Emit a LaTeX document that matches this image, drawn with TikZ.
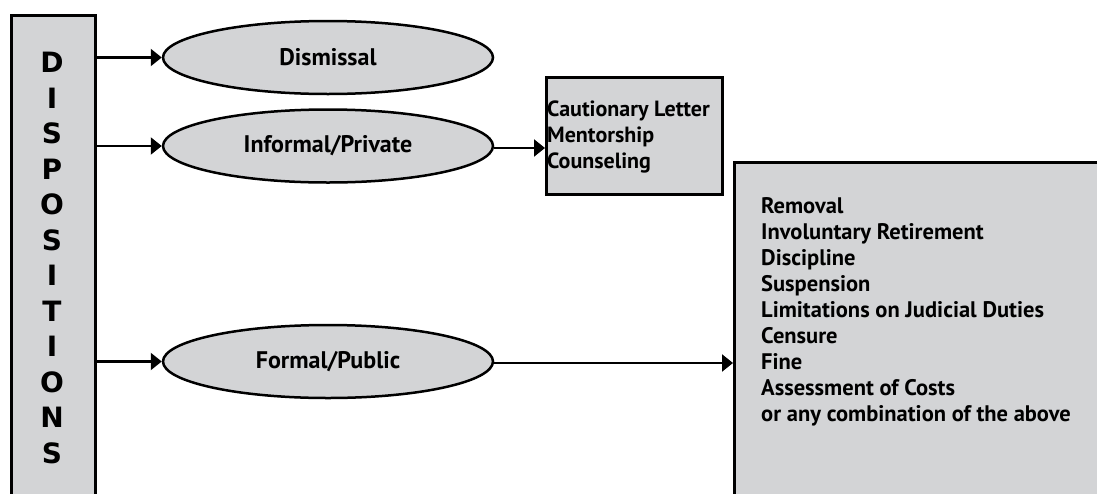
\documentclass[tikz,border=0pt]{standalone}
\usepackage{fontspec}
\setmainfont{PT Sans}
\newfontfamily\dispfont{DejaVu Sans}
\usetikzlibrary{shapes.geometric,arrows.meta}
\definecolor{boxgray}{RGB}{211,212,214}
\tikzset{
  graybox/.style={draw=black, line width=2.5pt, fill=boxgray, rectangle, inner sep=0pt},
  oval/.style={draw=black, line width=2.5pt, fill=boxgray, ellipse, minimum width=330pt, minimum height=73pt, inner sep=0pt, font=\bfseries\fontsize{24}{26}\selectfont},
  conn/.style={line width=2.2pt, -{Triangle[length=11pt,width=17pt]}},
  listtext/.style={align=left, inner sep=0pt},
}
\begin{document}
\begin{tikzpicture}[x=1pt,y=-1pt]
\useasboundingbox (0,0) rectangle (1097,493);
\clip (0,0) rectangle (1097,493);
% left box
\node[graybox, anchor=north west, minimum width=84pt, minimum height=500pt] (disp) at (10,14) {};
\node[align=center, inner sep=0pt, font=\dispfont\bfseries\fontsize{28}{35.5}\selectfont, anchor=north] (disptext) at (52,52) {D\\I\\S\\P\\O\\S\\I\\T\\I\\O\\N\\S};
% ellipses
\node[oval] (e1) at (328,57.5) {Dismissal};
\node[oval] (e2) at (328,146) {Informal/Private};
\node[oval] (e3) at (328,361.5) {Formal/Public};
% cautionary box
\node[graybox, anchor=north west, minimum width=176pt, minimum height=117pt] (caut) at (545,76) {};
\node[listtext, anchor=west, font=\bfseries\fontsize{22}{26}\selectfont] (cauttext) at (547,137) {Cautionary Letter\\Mentorship\\Counseling};
% big box
\node[graybox, anchor=north west, minimum width=400pt, minimum height=360pt] (big) at (733,161) {};
\node[listtext, anchor=north west, font=\bfseries\fontsize{22.5}{26}\selectfont] (bigtext) at (761,197) {Removal\\Involuntary Retirement\\Discipline\\Suspension\\Limitations on Judicial Duties\\Censure\\Fine\\Assessment of Costs\\or any combination of the above};
% connectors
\draw[conn] (disp.east |- e1) -- (e1.west);
\draw[conn] (disp.east |- e2) -- (e2.west);
\draw[conn] (disp.east |- e3) -- (e3.west);
\draw[conn] ([yshift=-2pt]e2.east) -- ([yshift=-2pt]e2.east -| caut.west);
\draw[conn] ([yshift=-1.5pt]e3.east) -- ([yshift=-1.5pt]e3.east -| big.west);
\end{tikzpicture}
\end{document}
